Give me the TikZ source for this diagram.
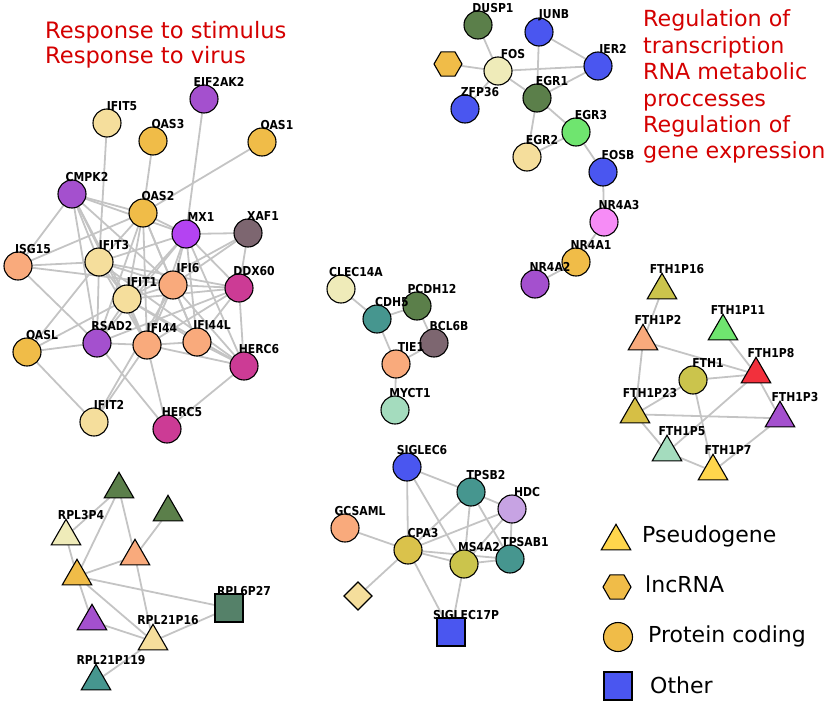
\documentclass[tikz,border=0pt]{standalone}
\usepackage{fontspec}
\setmainfont{DejaVu Sans}
\newfontfamily\lblfont{DejaVu Sans}[FakeStretch=0.88]
\usetikzlibrary{shapes.geometric}
\pgfdeclarelayer{bg}\pgfdeclarelayer{fg}\pgfsetlayers{bg,main,fg}
\definecolor{cLY}{HTML}{F5DE9C}
\definecolor{cOR}{HTML}{F0BC48}
\definecolor{cPU}{HTML}{A450CE}
\definecolor{cMX}{HTML}{B443F2}
\definecolor{cGP}{HTML}{7D6670}
\definecolor{cSA}{HTML}{F9AA7C}
\definecolor{cMA}{HTML}{CC3B95}
\definecolor{cDG}{HTML}{5B7F4A}
\definecolor{cBL}{HTML}{4A56F0}
\definecolor{cPY}{HTML}{EFEBB9}
\definecolor{cLG}{HTML}{6FE56F}
\definecolor{cPK}{HTML}{F68CF6}
\definecolor{cTE}{HTML}{46968F}
\definecolor{cMI}{HTML}{A4DCBE}
\definecolor{cOL}{HTML}{CBC44C}
\definecolor{cGO}{HTML}{D6BF45}
\definecolor{cCP}{HTML}{DAC24B}
\definecolor{cRE}{HTML}{F2303C}
\definecolor{cYE}{HTML}{FFD64C}
\definecolor{cLA}{HTML}{C7A3E3}
\definecolor{cSG}{HTML}{558169}
\definecolor{cED}{HTML}{C4C4C4}
\definecolor{cTX}{HTML}{D40000}
\tikzset{
  gbase/.style={draw=black, line width=1.1pt, inner sep=0pt, outer sep=0pt},
  gcirc/.style={gbase, circle, minimum size=28pt},
  gtri/.style={gbase, regular polygon, regular polygon sides=3, minimum size=34pt, yshift=-4.3pt},
  ghex/.style={gbase, regular polygon, regular polygon sides=6, minimum size=28pt},
  gsq/.style={gbase, rectangle, minimum size=28pt},
  gdia/.style={gbase, diamond, minimum width=28pt, minimum height=28pt},
  lbl/.style={inner sep=0pt, font=\lblfont\bfseries\fontsize{12.3}{13}\selectfont, text=black},
  edge/.style={draw=cED, line width=1.8pt},
  redtxt/.style={inner sep=0pt, anchor=base west, text=cTX},
  legtxt/.style={inner sep=0pt, anchor=base west, text=black, font=\fontsize{22}{26}\selectfont}
}
\newcommand{\mkn}[5]{\node[#1] (#2) at (#3,#4) {};
  \begin{pgfonlayer}{fg}\node[lbl] (#2-lab) at ({#3+15},{#4-17}) {#5};\end{pgfonlayer}}
\newcommand{\mkb}[4]{\node[#1] (#2) at (#3,#4) {};}
\begin{document}
\begin{tikzpicture}[x=1pt,y=-1pt]
\useasboundingbox (0,0) rectangle (829,704);
% titles
\node[redtxt, font=\fontsize{22.6}{25}\selectfont] (t1) at (45,38) {Response to stimulus};
\node[redtxt, font=\fontsize{22.6}{25}\selectfont] (t2) at (45,63) {Response to virus};
\node[redtxt, font=\fontsize{22.2}{26}\selectfont] (r1) at (643,26) {Regulation of};
\node[redtxt, font=\fontsize{22.2}{26}\selectfont] (r2) at (643,53) {transcription};
\node[redtxt, font=\fontsize{22.2}{26}\selectfont] (r3) at (643,79) {RNA metabolic};
\node[redtxt, font=\fontsize{22.2}{26}\selectfont] (r4) at (643,106) {proccesses};
\node[redtxt, font=\fontsize{22.2}{26}\selectfont] (r5) at (643,132) {Regulation of};
\node[redtxt, font=\fontsize{22.2}{26}\selectfont] (r6) at (643,158) {gene expression};
% big cluster
\mkn{gcirc,fill=cLY}{IFIT5}{107}{123}{IFIT5}
\mkn{gcirc,fill=cPU}{EIF2AK2}{204}{99}{EIF2AK2}
\mkn{gcirc,fill=cOR}{OAS3}{153}{141}{OAS3}
\mkn{gcirc,fill=cOR}{OAS1}{262}{142}{OAS1}
\mkn{gcirc,fill=cPU}{CMPK2}{72}{194}{CMPK2}
\mkn{gcirc,fill=cOR}{OAS2}{143}{213}{OAS2}
\mkn{gcirc,fill=cMX}{MX1}{186}{234}{MX1}
\mkn{gcirc,fill=cGP}{XAF1}{248}{233}{XAF1}
\mkn{gcirc,fill=cSA}{ISG15}{18}{266}{ISG15}
\mkn{gcirc,fill=cLY}{IFIT3}{99}{262}{IFIT3}
\mkn{gcirc,fill=cSA}{IFI6}{173}{285}{IFI6}
\mkn{gcirc,fill=cMA}{DDX60}{239}{288}{DDX60}
\mkn{gcirc,fill=cLY}{IFIT1}{127}{299}{IFIT1}
\mkn{gcirc,fill=cOR}{OASL}{27}{352}{OASL}
\mkn{gcirc,fill=cPU}{RSAD2}{97}{343}{RSAD2}
\mkn{gcirc,fill=cSA}{IFI44}{147}{345}{IFI44}
\mkn{gcirc,fill=cSA}{IFI44L}{197}{342}{IFI44L}
\mkn{gcirc,fill=cMA}{HERC6}{244}{366}{HERC6}
\mkn{gcirc,fill=cLY}{IFIT2}{94}{422}{IFIT2}
\mkn{gcirc,fill=cMA}{HERC5}{167}{429}{HERC5}
% top right cluster
\mkn{gcirc,fill=cDG}{DUSP1}{478}{25}{DUSP1}
\mkn{gcirc,fill=cBL}{JUNB}{539}{32}{JUNB}
\mkb{ghex,fill=cOR}{hexA}{448}{64}
\mkn{gcirc,fill=cPY}{FOS}{498}{71}{FOS}
\mkn{gcirc,fill=cBL}{IER2}{598}{66}{IER2}
\mkn{gcirc,fill=cBL}{ZFP36}{465}{109}{ZFP36}
\mkn{gcirc,fill=cDG}{EGR1}{537}{98}{EGR1}
\mkn{gcirc,fill=cLG}{EGR3}{576}{132}{EGR3}
\mkn{gcirc,fill=cLY}{EGR2}{527}{157}{EGR2}
\mkn{gcirc,fill=cBL}{FOSB}{603}{172}{FOSB}
\mkn{gcirc,fill=cPK}{NR4A3}{604}{222}{NR4A3}
\mkn{gcirc,fill=cPU}{NR4A2}{535}{284}{NR4A2}
\mkn{gcirc,fill=cOR}{NR4A1}{576}{262}{NR4A1}
% center cluster
\mkn{gcirc,fill=cPY}{CLEC14A}{341}{289}{CLEC14A}
\mkn{gcirc,fill=cTE}{CDH5}{377}{319}{CDH5}
\mkn{gcirc,fill=cDG}{PCDH12}{417}{306}{PCDH12}
\mkn{gcirc,fill=cGP}{BCL6B}{434}{343}{BCL6B}
\mkn{gcirc,fill=cSA}{TIE1}{396}{364}{TIE1}
\mkn{gcirc,fill=cMI}{MYCT1}{395}{410}{MYCT1}
% FTH cluster
\mkn{gtri,fill=cOL}{FTH1P16}{662}{286}{FTH1P16}
\mkn{gtri,fill=cSA}{FTH1P2}{643}{337}{FTH1P2}
\mkn{gtri,fill=cLG}{FTH1P11}{723}{327}{FTH1P11}
\mkn{gtri,fill=cRE}{FTH1P8}{756}{370}{FTH1P8}
\mkn{gcirc,fill=cOL}{FTH1}{693}{380}{FTH1}
\mkn{gtri,fill=cGO}{FTH1P23}{635}{410}{FTH1P23}
\mkn{gtri,fill=cPU}{FTH1P3}{780}{414}{FTH1P3}
\mkn{gtri,fill=cMI}{FTH1P5}{667}{448}{FTH1P5}
\mkn{gtri,fill=cYE}{FTH1P7}{713}{467}{FTH1P7}
% RPL cluster
\mkb{gtri,fill=cDG}{rplA}{119}{485}
\mkb{gtri,fill=cDG}{rplB}{168}{508}
\mkn{gtri,fill=cPY}{RPL3P4}{66}{532}{RPL3P4}
\mkb{gtri,fill=cSA}{rplC}{135}{552}
\mkb{gtri,fill=cOR}{rplD}{77}{572}
\mkn{gsq,fill=cSG}{RPL6P27}{229}{608}{RPL6P27}
\mkb{gtri,fill=cPU}{rplE}{92}{617}
\mkn{gtri,fill=cLY}{RPL21P16}{153}{637}{RPL21P16}
\mkn{gtri,fill=cTE}{RPL21P119}{96}{677}{RPL21P119}
% mast cell cluster
\mkn{gcirc,fill=cBL}{SIGLEC6}{407}{467}{SIGLEC6}
\mkn{gcirc,fill=cTE}{TPSB2}{471}{492}{TPSB2}
\mkn{gcirc,fill=cLA}{HDC}{512}{509}{HDC}
\mkn{gcirc,fill=cSA}{GCSAML}{345}{528}{GCSAML}
\mkn{gcirc,fill=cCP}{CPA3}{408}{550}{CPA3}
\mkn{gcirc,fill=cOL}{MS4A2}{464}{564}{MS4A2}
\mkn{gcirc,fill=cTE}{TPSAB1}{510}{559}{TPSAB1}
\mkb{gdia,fill=cLY}{diaA}{358}{596}
\mkn{gsq,fill=cBL}{SIGLEC17P}{451}{632}{SIGLEC17P}
% legend
\mkb{gtri,fill=cYE}{legT}{616}{537}
\node[legtxt] (legTt) at (642,542) {Pseudogene};
\mkb{ghex,fill=cOR}{legH}{617}{587}
\node[legtxt] (legHt) at (645,592) {lncRNA};
\node[gcirc,fill=cOR,minimum size=29pt] (legC) at (618,637) {};
\node[legtxt] (legCt) at (648,642) {Protein coding};
\mkb{gsq,fill=cBL}{legS}{618}{686}
\node[legtxt] (legSt) at (650,693) {Other};
% edges
\begin{pgfonlayer}{bg}
\foreach \a/\b in {IFIT5/IFIT3,OAS3/OAS2,OAS1/OAS2,EIF2AK2/MX1,
 CMPK2/ISG15,CMPK2/OAS2,CMPK2/MX1,CMPK2/IFIT3,CMPK2/IFIT1,CMPK2/RSAD2,CMPK2/IFI44,CMPK2/IFI6,
 OAS2/ISG15,OAS2/MX1,OAS2/IFIT3,OAS2/IFIT1,OAS2/IFI6,OAS2/RSAD2,OAS2/IFI44,OAS2/IFI44L,
 MX1/XAF1,MX1/IFIT3,MX1/IFIT1,MX1/IFI6,MX1/IFI44,MX1/IFI44L,MX1/DDX60,MX1/HERC6,MX1/RSAD2,
 XAF1/IFIT1,XAF1/IFI6,XAF1/DDX60,
 ISG15/IFIT3,ISG15/RSAD2,ISG15/IFI6,
 OASL/IFIT3,OASL/IFIT1,OASL/RSAD2,OASL/IFIT2,
 IFIT3/IFIT1,IFIT3/IFI6,IFIT3/DDX60,IFIT3/HERC6,IFIT3/RSAD2,IFIT3/IFI44,
 IFIT1/IFI6,IFIT1/DDX60,IFIT1/IFI44,IFIT1/IFI44L,IFIT1/HERC6,IFIT1/RSAD2,
 IFI6/DDX60,IFI6/IFI44,IFI6/IFI44L,IFI6/HERC6,
 RSAD2/IFI44,RSAD2/HERC5,RSAD2/DDX60,
 IFI44/IFIT2,IFI6/IFIT2,IFI44/HERC5,IFI44/HERC6,IFI44/IFI44L,IFI44/DDX60,
 IFI44L/HERC6,IFI44L/DDX60,DDX60/HERC6,HERC6/HERC5,
 DUSP1/FOS,hexA/FOS,FOS/IER2,FOS/EGR1,FOS/ZFP36,JUNB/EGR1,JUNB/IER2,EGR1/IER2,
 EGR1/EGR2,EGR1/EGR3,EGR3/EGR2,EGR3/FOSB,NR4A3/FOSB,NR4A3/NR4A1,NR4A1/NR4A2,
 CLEC14A/CDH5,CDH5/PCDH12,CDH5/TIE1,PCDH12/BCL6B,BCL6B/TIE1,TIE1/MYCT1,
 FTH1P16/FTH1P2,FTH1P2/FTH1P8,FTH1P2/FTH1P23,FTH1P11/FTH1P8,FTH1/FTH1P8,FTH1/FTH1P23,
 FTH1/FTH1P7,FTH1P8/FTH1P3,FTH1P8/FTH1P5,FTH1P23/FTH1P3,FTH1P23/FTH1P5,FTH1P5/FTH1P7,FTH1P7/FTH1P3,
 RPL3P4/rplA,RPL3P4/rplD,rplD/rplA,rplA/rplC,rplB/rplC,rplD/rplC,rplD/RPL6P27,rplD/rplE,
 rplD/RPL21P16,rplC/RPL21P16,rplE/RPL21P16,RPL21P16/RPL6P27,RPL21P16/RPL21P119,
 SIGLEC6/CPA3,SIGLEC6/TPSB2,SIGLEC6/MS4A2,TPSB2/HDC,TPSB2/CPA3,TPSB2/MS4A2,TPSB2/TPSAB1,
 HDC/CPA3,HDC/MS4A2,HDC/TPSAB1,GCSAML/CPA3,CPA3/MS4A2,CPA3/TPSAB1,MS4A2/TPSAB1,
 CPA3/diaA,CPA3/SIGLEC17P,MS4A2/SIGLEC17P}
  \draw[edge] (\a) -- (\b);
\end{pgfonlayer}
\end{tikzpicture}
\end{document}
